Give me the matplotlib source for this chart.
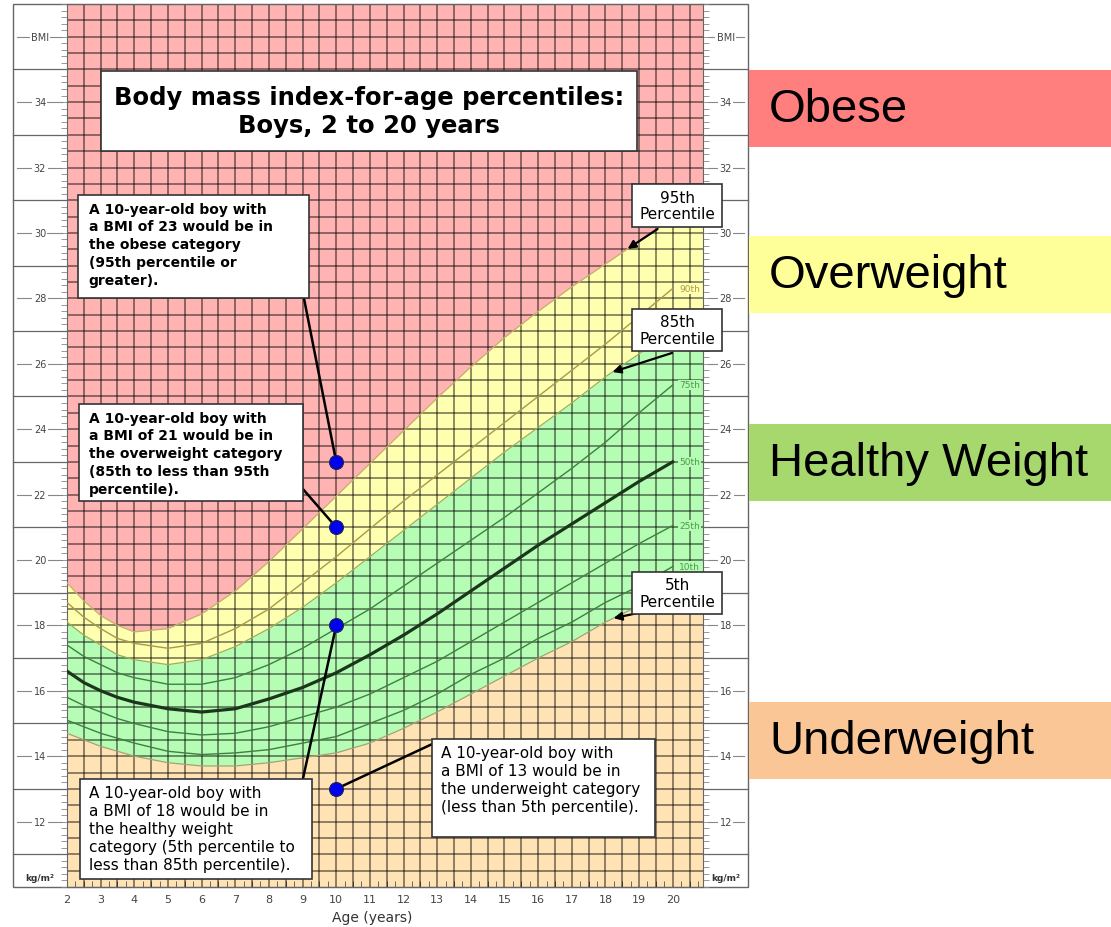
import matplotlib
matplotlib.use("Agg")
import matplotlib.pyplot as plt
import matplotlib.patches as patches
import numpy as np

# BMI-for-age percentiles, boys
ages = [2, 2.5, 3, 3.5, 4, 5, 6, 7, 8, 9, 10, 11, 12, 13, 14, 15, 16, 17, 18, 19, 20]
p5 = [14.7, 14.5, 14.3, 14.15, 14.0, 13.8, 13.7, 13.7, 13.8, 13.95, 14.1, 14.4, 14.85, 15.35, 15.9, 16.45, 17.0, 17.5, 18.1, 18.6, 19.1]
p10 = [15.1, 14.9, 14.7, 14.55, 14.4, 14.15, 14.05, 14.1, 14.2, 14.4, 14.6, 15.0, 15.4, 15.9, 16.5, 17.0, 17.6, 18.1, 18.7, 19.2, 19.8]
p25 = [15.8, 15.55, 15.35, 15.15, 15.0, 14.75, 14.65, 14.7, 14.9, 15.2, 15.5, 15.9, 16.4, 16.9, 17.5, 18.1, 18.7, 19.3, 19.9, 20.5, 21.05]
p50 = [16.6, 16.25, 16.0, 15.8, 15.65, 15.45, 15.35, 15.45, 15.75, 16.1, 16.55, 17.1, 17.7, 18.35, 19.05, 19.75, 20.45, 21.1, 21.75, 22.4, 23.0]
p75 = [17.4, 17.05, 16.8, 16.55, 16.4, 16.2, 16.2, 16.4, 16.8, 17.3, 17.9, 18.5, 19.2, 19.9, 20.6, 21.3, 22.05, 22.8, 23.6, 24.5, 25.35]
p85 = [18.1, 17.7, 17.4, 17.1, 16.95, 16.8, 16.95, 17.35, 17.9, 18.55, 19.3, 20.1, 20.9, 21.7, 22.5, 23.3, 24.05, 24.8, 25.6, 26.3, 27.0]
p90 = [18.7, 18.25, 17.9, 17.6, 17.45, 17.3, 17.45, 17.9, 18.5, 19.3, 20.1, 20.95, 21.8, 22.6, 23.4, 24.2, 25.0, 25.8, 26.6, 27.45, 28.3]
p95 = [19.3, 18.75, 18.3, 18.0, 17.8, 17.9, 18.35, 19.05, 19.95, 20.95, 21.95, 22.95, 23.95, 24.95, 25.9, 26.8, 27.6, 28.35, 29.05, 29.75, 30.45]

# the four example boys
dot_ages = [10, 10, 10, 10]
dot_bmi = [23, 21, 18, 13]

categories = ["Obese", "Overweight", "Healthy Weight", "Underweight"]
cat_colors = ["#FF7F7F", "#FFFF99", "#A6D86E", "#FBC695"]

W, H = 1111, 928
fig = plt.figure(figsize=(W / 100, H / 100), dpi=100)
ax = fig.add_axes([67 / W, (H - 888) / H, 636 / W, 883 / H])
ax.set_xlim(2, 20.9)
ax.set_ylim(10, 37)

# colored zones, held flat past age 20 to the edge of the grid
xe = np.append(ages, 20.9)
def ext(v):
    return np.append(v, v[-1])

red, yellow, green, peach = "#FFB3B3", "#FFFFB0", "#B5FDB5", "#FFE3B4"
ax.fill_between(xe, ext(p95), 37, color=red, lw=0, zorder=1)
ax.fill_between(xe, ext(p85), ext(p95), color=yellow, lw=0, zorder=1)
ax.fill_between(xe, ext(p5), ext(p85), color=green, lw=0, zorder=1)
ax.fill_between(xe, 10, ext(p5), color=peach, lw=0, zorder=1)

# grid
ax.vlines(np.arange(2.5, 20.9, 0.5), 10, 37, color="black", alpha=0.45, lw=1.4, zorder=2)
ax.hlines(np.arange(10.5, 37, 0.5), 2, 20.9, color="black", alpha=0.45, lw=1.4, zorder=2)

# percentile curves
ax.plot(ages, p95, color="#C8B06A", lw=0.9, zorder=3)
ax.plot(ages, p85, color="#9AAE5A", lw=0.9, zorder=3)
ax.plot(ages, p5, color="#A8A070", lw=0.9, zorder=3)
ax.plot(ages, p90, color="#A89A48", lw=1.0, zorder=3)
ax.plot(ages, p75, color="#3F7F3F", lw=1.0, zorder=3)
ax.plot(ages, p25, color="#3F7F3F", lw=1.0, zorder=3)
ax.plot(ages, p10, color="#3F7F3F", lw=1.0, zorder=3)
ax.plot(ages, p50, color="#1C361C", lw=2.3, zorder=3)

pct_names = ["90th", "75th", "50th", "25th", "10th"]
pct_vals = [p90[-1], p75[-1], p50[-1], p25[-1], p10[-1]]
pct_cols = ["#A89A48", "#4A9A4A", "#4A9A4A", "#4A9A4A", "#4A9A4A"]
pct_bg = [yellow, green, green, green, green]
for name, v, c, bg in zip(pct_names, pct_vals, pct_cols, pct_bg):
    ax.text(20.5, v, name, fontsize=6.5, color=c, ha="center", va="center", zorder=4,
            bbox=dict(facecolor=bg, edgecolor="none", pad=0.6))

# ticks
ax.set_xticks(range(2, 21))
ax.set_xticks(np.arange(2, 20.9, 0.25), minor=True)
ax.set_yticks([])
ax.set_yticks(np.arange(10, 37.01, 0.2), minor=True)
ax.tick_params(axis="x", which="major", length=0, pad=5, labelsize=8, labelcolor="#444")
ax.tick_params(axis="x", which="minor", direction="in", length=4, width=0.7, color="#666")
ax.tick_params(axis="y", which="minor", left=True, right=True, direction="out",
               length=4, width=0.6, color="#888")
for s in ax.spines.values():
    s.set_color("#666")
    s.set_linewidth(0.8)
ax.text(0.48, -0.034, "Age (years)", transform=ax.transAxes, ha="center", va="center",
        fontsize=10, color="#333")

# side margins with BMI labels
tr = ax.get_yaxis_transform()
xl, xr = -0.0849, 1.0708
ax.add_patch(patches.Rectangle((xl, 0), xr - xl, 1, transform=ax.transAxes, fill=False,
                               edgecolor="#666", lw=1, clip_on=False))
for b in range(11, 37, 2):
    ax.plot([xl, 0], [b, b], transform=tr, color="#666", lw=0.9, clip_on=False)
    ax.plot([1, xr], [b, b], transform=tr, color="#666", lw=0.9, clip_on=False)
ylabels = [str(b) for b in range(12, 35, 2)] + ["BMI"]
for b, lab in zip(range(12, 37, 2), ylabels):
    for x0, x1, xc in [(xl + 0.006, -0.008, -0.0425), (1.008, xr - 0.006, 1.036)]:
        ax.plot([x0, x1], [b, b], transform=tr, color="#888", lw=0.8, clip_on=False)
        ax.text(xc, b, lab, transform=tr, ha="center", va="center", fontsize=7, color="#444",
                bbox=dict(facecolor="white", edgecolor="none", pad=1), clip_on=False)
for xc in [-0.0425, 1.036]:
    ax.text(xc, 10.3, "kg/m²", transform=tr, ha="center", va="center", fontsize=6.5,
            fontweight="bold", color="#333", clip_on=False)

# annotation boxes
def box(x0, y0, x1, y1):
    ax.add_patch(patches.Rectangle((x0, y1), x1 - x0, y0 - y1, facecolor="white",
                                   edgecolor="#333", lw=1.2, zorder=6, clip_on=False))

box(3.01, 34.95, 18.94, 32.50)
ax.text(10.97, 33.73, "Body mass index-for-age percentiles:\nBoys, 2 to 20 years",
        ha="center", va="center", fontsize=17.5, fontweight="bold", linespacing=1.25, zorder=7)

notes = [
    ((2.33, 31.16, 9.19, 28.01), (2.65, 30.96), "bold",
     "A 10-year-old boy with\na BMI of 23 would be in\nthe obese category\n(95th percentile or\ngreater).",
     (9.04, 28.01)),
    ((2.36, 24.77, 9.01, 21.80), (2.65, 24.57), "bold",
     "A 10-year-old boy with\na BMI of 21 would be in\nthe overweight category\n(85th to less than 95th\npercentile).",
     (9.01, 22.17)),
    ((2.39, 13.30, 9.28, 10.24), (2.65, 13.12), "normal",
     "A 10-year-old boy with\na BMI of 18 would be in\nthe healthy weight\ncategory (5th percentile to\nless than 85th percentile).",
     (9.01, 13.30)),
    ((12.85, 14.52, 19.47, 11.53), (13.11, 14.34), "normal",
     "A 10-year-old boy with\na BMI of 13 would be in\nthe underweight category\n(less than 5th percentile).",
     (12.85, 14.37)),
]
for (bx, tpos, weight, txt, start), dx, dy in zip(notes, dot_ages, dot_bmi):
    box(*bx)
    bold = weight == "bold"
    ax.text(tpos[0], tpos[1], txt, ha="left", va="top", fontsize=10 if bold else 11,
            fontweight=weight, linespacing=1.36 if bold else 1.25, zorder=7)
    ax.plot([start[0], dx], [start[1], dy], color="black", lw=1.8, zorder=5, clip_on=False)

ax.plot(dot_ages, dot_bmi, "o", ms=10, mfc="#0000F0", mec="#222244", mew=0.8, zorder=9, clip_on=False)

# percentile call-outs with arrows
callouts = [("95th", p95, (31.50, 30.18), (19.55, 30.12), 18.66),
            ("85th", p85, (27.67, 26.39), (19.98, 26.33), 18.21),
            ("5th", p5, (19.63, 18.35), (19.81, 18.56), 18.24)]
for name, curve, (ytop, ybot), start, tip_age in callouts:
    box(18.79, ytop, 21.46, ybot)
    ax.text(20.13, (ytop + ybot) / 2, name + "\nPercentile", ha="center", va="center",
            fontsize=11, linespacing=1.1, zorder=7, clip_on=False)
    ax.annotate("", xy=(tip_age, np.interp(tip_age, ages, curve)), xytext=start,
                arrowprops=dict(arrowstyle="-|>", color="black", lw=1.6, mutation_scale=12,
                                shrinkA=0, shrinkB=0), zorder=5)

# category panels on the right
side = fig.add_axes([749 / W, 0, (W - 749) / W, 1])
side.set_xlim(0, W - 749)
side.set_ylim(H, 0)
side.axis("off")
panel_top = [71, 237, 425, 703]
for name, col, top in zip(categories, cat_colors, panel_top):
    side.add_patch(patches.Rectangle((0, top), W - 749, 77, facecolor=col, edgecolor="none"))
    side.text(20, top + 39, name, fontsize=34, family="Liberation Sans", va="center", ha="left")

fig.savefig("out.png", dpi=100)
